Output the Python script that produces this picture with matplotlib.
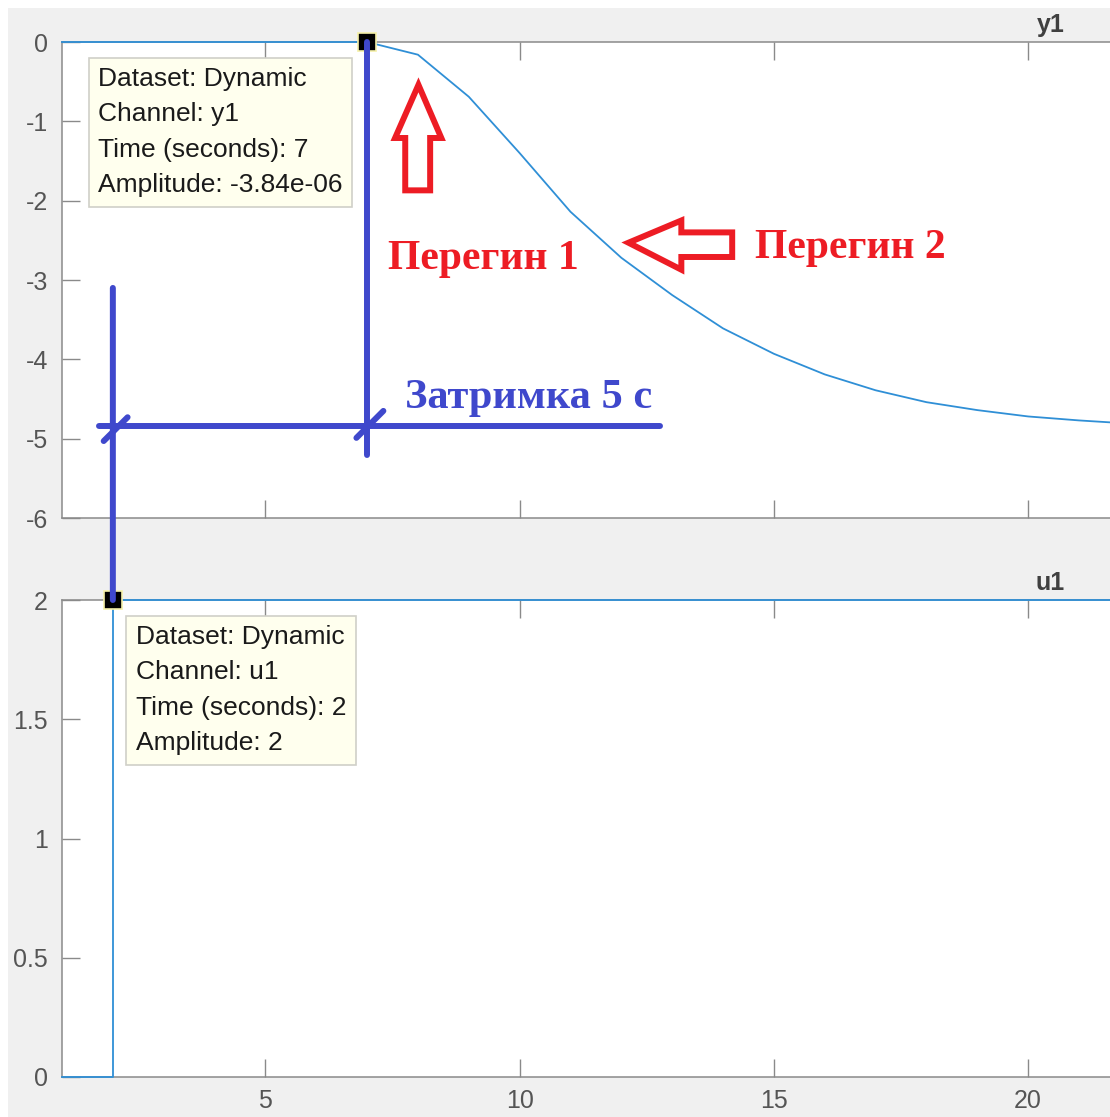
import numpy as np
import matplotlib
matplotlib.use("Agg")
import matplotlib.pyplot as plt
from matplotlib.patches import Polygon, Rectangle, ConnectionPatch

plt.rcParams['font.family'] = ['Liberation Sans', 'DejaVu Sans']
plt.rcParams['axes.unicode_minus'] = False

# sampled response, 1 s step
t = [1, 2, 3, 4, 5, 6, 7, 8, 9, 10, 11, 12, 13, 14, 15, 16, 17, 18, 19, 20, 21, 22]
y1 = [0, 0, 0, 0, 0, 0, -3.84e-06, -0.16, -0.69, -1.40, -2.14, -2.72, -3.19, -3.61,
      -3.93, -4.19, -4.39, -4.54, -4.64, -4.72, -4.77, -4.81]
u1 = [0, 2, 2, 2, 2, 2, 2, 2, 2, 2, 2, 2, 2, 2, 2, 2, 2, 2, 2, 2, 2, 2]

y1_ticks = [0, -1, -2, -3, -4, -5, -6]
u1_ticks = [0, 0.5, 1, 1.5, 2]
x_ticks = [5, 10, 15, 20]

tip_y1 = (7, -3.84e-06)
tip_u1 = (2, 2)
delay_level = -4.84

LINE = '#2f8fd6'
PAINT_BLUE = '#3f48cc'
PAINT_RED = '#ed1c24'
SPINE = '#8a8a8a'
TICKLBL = '#555555'

fig = plt.figure(figsize=(11.1, 11.17), dpi=100, facecolor='white')
fig.patches.append(Rectangle((8 / 1110, 0), 1, 1 - 8 / 1117, transform=fig.transFigure,
                             facecolor='#f0f0f0', edgecolor='none', zorder=-10))

ax1 = fig.add_axes([62 / 1110, 1 - 518 / 1117, 1 - 62 / 1110, 476 / 1117])
ax2 = fig.add_axes([62 / 1110, 1 - 1077 / 1117, 1 - 62 / 1110, 477 / 1117])


def style(ax, yticks, ylim, title, xlabels):
    ax.set_facecolor('white')
    ax.set_xlim(1, 21.61)
    ax.set_ylim(*ylim)
    ax.set_yticks(yticks)
    ax.set_yticklabels([('%g' % v) for v in yticks])
    ax.set_xticks(x_ticks)
    if not xlabels:
        ax.set_xticklabels([])
    for s in ['left', 'bottom', 'top']:
        ax.spines[s].set_color(SPINE)
        ax.spines[s].set_linewidth(1.1)
    ax.spines['right'].set_visible(False)
    ax.tick_params(direction='in', length=13, width=1, color=SPINE, labelcolor=TICKLBL,
                   labelsize=18, top=True, right=False)
    ax.tick_params(axis='y', pad=10)
    ax.tick_params(axis='x', pad=9)
    ax.annotate(title, xy=(1, 1), xycoords='axes fraction', xytext=(-45, 10),
                textcoords='offset pixels', ha='right', va='baseline',
                fontsize=18, fontweight='bold', color='#404040')


style(ax1, y1_ticks, (-6, 0), 'y1', False)
style(ax2, u1_ticks, (0, 2), 'u1', True)

ax1.plot(t, y1, color=LINE, lw=1.3, clip_on=False, zorder=3)
# input is held between samples
ax2.plot(t, u1, color=LINE, lw=1.3, drawstyle='steps-post', clip_on=False, zorder=3)
ax1.set_xlim(1, 21.61)
ax2.set_xlim(1, 21.61)


def datatip(ax, xy, lines, dx, dy):
    ax.plot(*xy, 's', ms=13, mfc='black', mec='#f5f0a8', mew=1.2, clip_on=False, zorder=6)
    ax.annotate('\n'.join(lines), xy=xy, xytext=(dx, dy), textcoords='offset pixels',
                ha='left', va='top', fontsize=19, color='#1a1a1a', linespacing=1.6,
                bbox=dict(boxstyle='square,pad=0.36', fc='#ffffee', ec='#d0d0c8', lw=1.2),
                zorder=5, annotation_clip=False)


datatip(ax1, tip_y1, ['Dataset: Dynamic', 'Channel: y1', 'Time (seconds): 7',
                      'Amplitude: -3.84e-06'], -269, -25)
datatip(ax2, tip_u1, ['Dataset: Dynamic', 'Channel: u1', 'Time (seconds): 2',
                      'Amplitude: 2'], 23, -25)

# hand-drawn delay marks
pk = dict(color=PAINT_BLUE, lw=4.3, solid_capstyle='round', clip_on=False, zorder=7)
ax1.plot([tip_y1[0], tip_y1[0]], [0, -5.21], **pk)
ax1.plot([1.72, 12.76], [delay_level, delay_level], **pk)
ax1.plot([1.82, 2.29], [-5.03, -4.73], **pk)
ax1.plot([6.79, 7.32], [-4.99, -4.65], **pk)
con = ConnectionPatch(xyA=(tip_u1[0], -3.10), coordsA=ax1.transData,
                      xyB=tip_u1, coordsB=ax2.transData,
                      color=PAINT_BLUE, lw=4.3, capstyle='round', zorder=7)
fig.add_artist(con)

ax1.text(7.75, -4.61, 'Затримка 5 с', color=PAINT_BLUE, fontsize=30.5, fontweight='bold',
         family='Liberation Serif', ha='left', va='baseline', zorder=7)
ax1.text(7.42, -2.86, 'Перегин 1', color=PAINT_RED, fontsize=30, fontweight='bold',
         family='Liberation Serif', ha='left', va='baseline', zorder=7)
ax1.text(14.63, -2.72, 'Перегин 2', color=PAINT_RED, fontsize=30, fontweight='bold',
         family='Liberation Serif', ha='left', va='baseline', zorder=7)

# outline arrows
up_arrow = [(8.01, -0.54), (8.46, -1.21), (8.24, -1.21), (8.24, -1.87),
            (7.75, -1.87), (7.75, -1.21), (7.55, -1.21)]
left_arrow = [(12.14, -2.53), (13.18, -2.25), (13.18, -2.40), (14.18, -2.40),
              (14.18, -2.71), (13.18, -2.71), (13.18, -2.87)]
for pts in (up_arrow, left_arrow):
    ax1.add_patch(Polygon(pts, closed=True, fill=False, edgecolor=PAINT_RED, lw=4.3,
                          joinstyle='miter', zorder=7))

fig.savefig('out.png', dpi=100, facecolor=fig.get_facecolor())
